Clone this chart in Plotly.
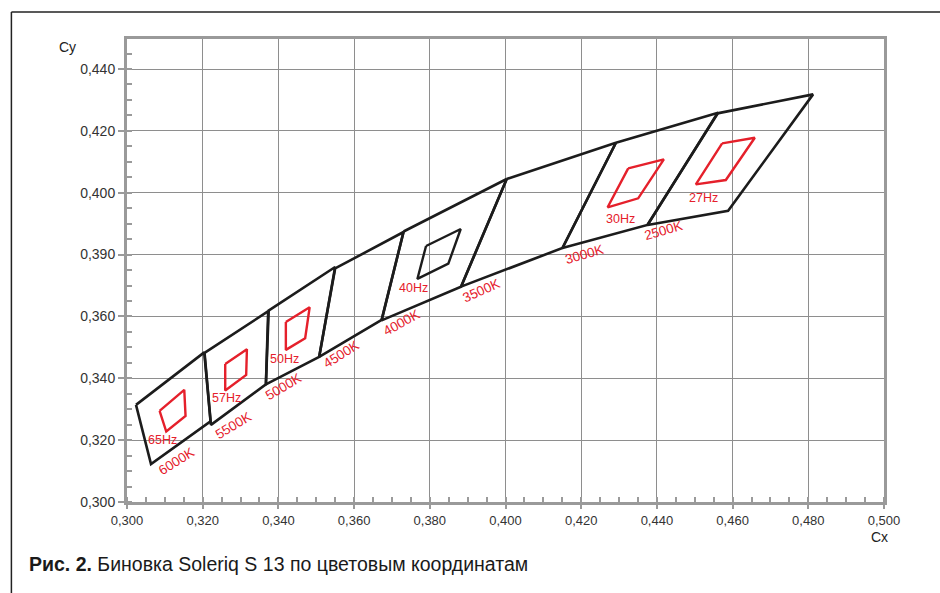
import plotly.graph_objects as go

# ---- data (chromaticity coordinates) ----
bin_names = ["6000K", "5500K", "5000K", "4500K", "4000K", "3500K", "3000K", "2500K"]
bin_x = [
    [0.30238, 0.32041, 0.32207, 0.30634],
    [0.32049, 0.33743, 0.33670, 0.32218],
    [0.33730, 0.35499, 0.35077, 0.33670],
    [0.35499, 0.37307, 0.36727, 0.35077],
    [0.37307, 0.40032, 0.38825, 0.36727],
    [0.40032, 0.42917, 0.41505, 0.38825],
    [0.42917, 0.45618, 0.43749, 0.41505],
    [0.45597, 0.48126, 0.45882, 0.43754],
]
bin_y = [
    [0.33141, 0.34837, 0.32607, 0.31225],
    [0.34821, 0.36178, 0.33803, 0.32494],
    [0.36178, 0.37599, 0.34691, 0.33803],
    [0.37551, 0.38730, 0.35887, 0.34691],
    [0.38746, 0.40443, 0.36963, 0.35871],
    [0.40443, 0.41616, 0.38213, 0.36963],
    [0.41616, 0.42585, 0.38956, 0.38213],
    [0.42565, 0.43179, 0.39418, 0.38956],
]
bin_label_x = [0.31301, 0.32814, 0.34145, 0.35657, 0.37260, 0.39372, 0.42080, 0.44184]
bin_label_y = [0.31309, 0.32462, 0.33732, 0.34756, 0.35800, 0.36824, 0.37987, 0.38763]
bin_label_angle = [-32, -31, -31, -32, -29, -24, -16, -16]

freq_names = ["65Hz", "57Hz", "50Hz", "40Hz", "30Hz", "27Hz"]
freq_x = [
    [0.30861, 0.31513, 0.31547, 0.31037],
    [0.32595, 0.33168, 0.33149, 0.32595],
    [0.34197, 0.34826, 0.34707, 0.34197],
    [0.37901, 0.38817, 0.38490, 0.37672],
    [0.43242, 0.44184, 0.43506, 0.42698],
    [0.45723, 0.46587, 0.45821, 0.45029],
]
freq_y = [
    [0.32947, 0.33625, 0.32785, 0.32278],
    [0.34465, 0.34940, 0.34110, 0.33603],
    [0.35822, 0.36297, 0.35296, 0.34918],
    [0.38278, 0.38827, 0.37706, 0.37212],
    [0.40788, 0.41079, 0.39819, 0.39528],
    [0.41596, 0.41777, 0.40410, 0.40271],
]
freq_color = ["red", "red", "red", "black", "red", "red"]
freq_label_x = [0.30950, 0.32621, 0.34160, 0.37566, 0.43049, 0.45222]
freq_label_y = [0.32010, 0.33357, 0.34617, 0.36911, 0.39150, 0.39819]

x_tickvals = [0.30, 0.32, 0.34, 0.36, 0.38, 0.40, 0.42, 0.44, 0.46, 0.48, 0.50]
x_ticktext = ["0,300", "0,320", "0,340", "0,360", "0,380", "0,400",
              "0,420", "0,440", "0,460", "0,480", "0,500"]
y_tickvals = [0.30, 0.32, 0.34, 0.36, 0.38, 0.40, 0.42, 0.44]
y_ticktext = ["0,300", "0,320", "0,340", "0,360", "0,390", "0,400", "0,420", "0,440"]

caption = "<b>Рис. 2.</b> Биновка Soleriq S 13 по цветовым координатам"

# ---- styling ----
BLACK = "#1c1c1c"
RED = "#e5202b"
GRID = "#8e8e8e"
AXIS = "#9a9a9a"
FONT = "Liberation Sans, Arial, sans-serif"

fig = go.Figure()

for name, xs, ys in zip(bin_names, bin_x, bin_y):
    fig.add_trace(go.Scatter(
        x=xs + [xs[0]], y=ys + [ys[0]], mode="lines",
        line=dict(color=BLACK, width=2.6), name=name,
        hoverinfo="skip", showlegend=False,
    ))

for name, xs, ys, c in zip(freq_names, freq_x, freq_y, freq_color):
    fig.add_trace(go.Scatter(
        x=xs + [xs[0]], y=ys + [ys[0]], mode="lines",
        line=dict(color=RED if c == "red" else BLACK, width=2.4), name=name,
        hoverinfo="skip", showlegend=False,
    ))

annotations = []
for t, x, y, a in zip(bin_names, bin_label_x, bin_label_y, bin_label_angle):
    annotations.append(dict(x=x, y=y, xref="x", yref="y", text=t, showarrow=False,
                            textangle=a, font=dict(family=FONT, size=13.5, color=RED)))
for t, x, y in zip(freq_names, freq_label_x, freq_label_y):
    annotations.append(dict(x=x, y=y, xref="x", yref="y", text=t, showarrow=False,
                            font=dict(family=FONT, size=12.5, color=RED)))

annotations.append(dict(x=0.5, y=0.3, xref="x", yref="y", text="Cx", showarrow=False,
                        xanchor="right", yanchor="middle", xshift=6, yshift=-35,
                        font=dict(family=FONT, size=14, color="#222")))
annotations.append(dict(x=0, y=1, xref="paper", yref="paper", text="Cy", showarrow=False,
                        xanchor="left", yanchor="middle", xshift=-70, yshift=-8,
                        font=dict(family=FONT, size=14, color="#222")))
annotations.append(dict(x=0, y=0, xref="paper", yref="paper", text=caption, showarrow=False,
                        xanchor="left", yanchor="middle", xshift=-100, yshift=-62,
                        font=dict(family=FONT, size=19.5, color="#1a1a1a")))

fig.update_layout(
    width=940, height=593,
    margin=dict(l=127, r=56, t=39, b=91),
    paper_bgcolor="white", plot_bgcolor="white",
    font=dict(family=FONT, size=14, color="#333"),
    annotations=annotations,
    shapes=[
        dict(type="line", xref="paper", yref="paper", x0=-0.1527, x1=1.08, y0=1.0583, y1=1.0583,
             line=dict(color="#222", width=1.5)),
        dict(type="line", xref="paper", yref="paper", x0=-0.1527, x1=-0.1527, y0=1.0583, y1=-0.22,
             line=dict(color="#222", width=1.5)),
    ],
)

fig.update_xaxes(
    range=[0.3, 0.5], tickvals=x_tickvals, ticktext=x_ticktext,
    showgrid=True, gridcolor=GRID, gridwidth=1.4,
    showline=True, linecolor=AXIS, linewidth=3, mirror=True,
    ticks="outside", ticklen=4, tickcolor=AXIS, tickwidth=1.5,
    minor=dict(ticks="inside", dtick=0.005, tick0=0.3, ticklen=5, tickcolor=AXIS, tickwidth=1.5, showgrid=False),
    zeroline=False, tickfont=dict(family=FONT, size=13, color="#333"),
)
fig.update_yaxes(
    range=[0.3, 0.4497], tickvals=y_tickvals, ticktext=y_ticktext,
    showgrid=True, gridcolor=GRID, gridwidth=1.4,
    showline=True, linecolor=AXIS, linewidth=3, mirror=True,
    ticks="outside", ticklen=6, tickcolor=AXIS, tickwidth=1.5,
    minor=dict(ticks="inside", dtick=0.005, tick0=0.3, ticklen=5, tickcolor=AXIS, tickwidth=1.5, showgrid=False),
    zeroline=False, tickfont=dict(family=FONT, size=14, color="#333"),
)

fig.write_html("out.html", config={"displayModeBar": False},
               post_script="document.body.style.margin='0px';")
